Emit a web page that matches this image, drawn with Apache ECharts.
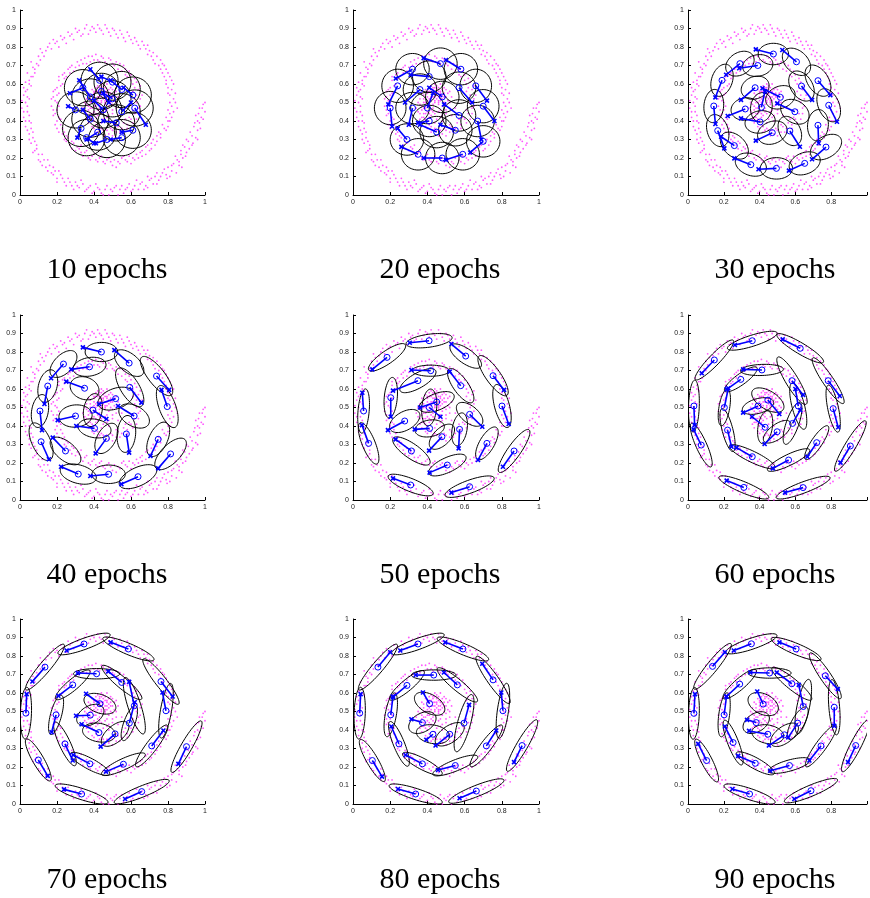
<!DOCTYPE html>
<html>
<head>
<meta charset="utf-8">
<script src="https://cdn.jsdelivr.net/npm/echarts/dist/echarts.min.js"></script>
<style>
html, body { margin: 0; padding: 0; background: #fff; }
#main { width: 870px; height: 898px; }
</style>
</head>
<body>
<div id="main"></div>
<script>
// spiral data cloud (same in every panel)
const spiral = [
  [0.99,0.49],[0.97,0.47],[1.0,0.45],[0.98,0.42],[0.95,0.43],[0.97,0.39],[0.94,0.37],[0.96,0.35],[0.92,0.34],[0.95,0.31],
  [0.91,0.29],[0.93,0.27],[0.89,0.26],[0.9,0.23],[0.87,0.24],[0.88,0.2],[0.85,0.19],[0.86,0.16],[0.83,0.17],[0.82,0.13],
  [0.8,0.15],[0.79,0.11],[0.77,0.12],[0.75,0.08],[0.73,0.1],[0.72,0.06],[0.7,0.08],[0.68,0.05],[0.66,0.07],[0.64,0.03],
  [0.62,0.05],[0.6,0.02],[0.58,0.04],[0.56,0.01],[0.54,0.03],[0.52,0.05],[0.5,0.02],[0.48,0.0],[0.46,0.03],[0.44,0.01],
  [0.42,0.04],[0.4,0.02],[0.38,0.05],[0.36,0.03],[0.34,0.06],[0.32,0.04],[0.3,0.07],[0.28,0.05],[0.26,0.09],[0.24,0.07],
  [0.22,0.11],[0.2,0.09],[0.19,0.13],[0.17,0.12],[0.16,0.16],[0.14,0.15],[0.13,0.19],[0.11,0.18],[0.1,0.22],[0.08,0.24],
  [0.09,0.27],[0.06,0.28],[0.07,0.31],[0.05,0.33],[0.06,0.36],[0.03,0.37],[0.05,0.4],[0.02,0.42],[0.04,0.45],[0.01,0.47],
  [0.03,0.5],[0.05,0.52],[0.02,0.54],[0.04,0.57],[0.06,0.59],[0.03,0.61],[0.06,0.64],[0.08,0.66],[0.07,0.69],[0.1,0.7],
  [0.11,0.73],[0.13,0.75],[0.14,0.78],[0.17,0.79],[0.19,0.82],[0.21,0.8],[0.23,0.84],[0.25,0.82],[0.27,0.86],[0.29,0.84],
  [0.31,0.88],[0.33,0.86],[0.35,0.9],[0.37,0.87],[0.39,0.91],[0.41,0.88],[0.43,0.9],[0.45,0.87],[0.47,0.9],[0.49,0.86],
  [0.51,0.89],[0.53,0.85],[0.55,0.87],[0.57,0.83],[0.59,0.86],[0.61,0.82],[0.63,0.83],[0.65,0.79],[0.67,0.81],[0.69,0.76],
  [0.7,0.78],[0.72,0.73],[0.74,0.75],[0.75,0.7],[0.77,0.71],[0.77,0.66],[0.79,0.68],[0.79,0.62],[0.81,0.64],[0.8,0.58],
  [0.83,0.6],[0.81,0.54],[0.84,0.55],[0.81,0.5],[0.84,0.5],[0.8,0.46],[0.83,0.45],[0.79,0.42],[0.81,0.4],[0.77,0.38],
  [0.79,0.35],[0.75,0.34],[0.76,0.31],[0.72,0.3],[0.73,0.27],[0.69,0.27],[0.7,0.24],[0.66,0.24],[0.66,0.21],[0.63,0.22],
  [0.62,0.19],[0.59,0.21],[0.58,0.18],[0.55,0.2],[0.54,0.17],[0.51,0.19],[0.5,0.16],[0.47,0.19],[0.46,0.17],[0.43,0.2],
  [0.42,0.18],[0.39,0.21],[0.38,0.19],[0.35,0.23],[0.34,0.21],[0.32,0.25],[0.3,0.24],[0.29,0.28],[0.27,0.27],[0.26,0.31],
  [0.24,0.3],[0.24,0.34],[0.21,0.34],[0.22,0.38],[0.19,0.38],[0.21,0.42],[0.18,0.43],[0.2,0.46],[0.17,0.48],[0.2,0.5],
  [0.18,0.53],[0.21,0.55],[0.19,0.57],[0.22,0.59],[0.21,0.62],[0.24,0.63],[0.24,0.66],[0.27,0.66],[0.27,0.69],[0.3,0.69],
  [0.31,0.72],[0.34,0.71],[0.35,0.74],[0.38,0.72],[0.39,0.75],[0.42,0.73],[0.44,0.75],[0.46,0.72],[0.48,0.74],[0.5,0.71],
  [0.52,0.72],[0.53,0.68],[0.56,0.7],[0.57,0.65],[0.59,0.67],[0.6,0.62],[0.62,0.63],[0.62,0.58],[0.65,0.59],[0.63,0.54],
  [0.66,0.54],[0.63,0.5],[0.65,0.48],[0.61,0.46],[0.64,0.44],[0.59,0.42],[0.61,0.39],[0.56,0.39],[0.58,0.36],[0.53,0.37],
  [0.54,0.34],[0.5,0.35],[0.5,0.32],[0.47,0.35],[0.46,0.32],[0.44,0.36],[0.42,0.34],[0.41,0.38],[0.39,0.37],[0.39,0.41],
  [0.36,0.41],[0.38,0.44],[0.35,0.45],[0.37,0.48],[0.35,0.5],[0.38,0.52],[0.37,0.55],[0.4,0.55],[0.41,0.58],[0.43,0.57],
  [0.45,0.59],[0.46,0.56],[0.48,0.57],[0.48,0.54],[0.5,0.53],[0.47,0.51],[0.49,0.5],[0.46,0.49],[0.45,0.52],[0.44,0.5],
  [0.43,0.53],[0.42,0.51],[0.44,0.55],[0.46,0.53],[0.41,0.48],[0.4,0.45],[0.42,0.43],[0.45,0.41],[0.48,0.43],[0.5,0.46],
  [0.52,0.5],[0.51,0.55],[0.43,0.47],[0.47,0.46],[0.39,0.5],[0.4,0.53],[0.42,0.56],[0.45,0.57],[0.47,0.55],[0.44,0.53],
  [0.41,0.52],[0.43,0.49],[0.46,0.51],[0.48,0.52],[0.45,0.54],[0.4,0.56],[0.43,0.58],[0.39,0.47],[0.41,0.44],[0.37,0.42],
  [0.44,0.44],[0.47,0.42],[0.5,0.44],[0.52,0.47],[0.5,0.49],[0.49,0.58],
  [0.985,0.47],[1.0,0.5],[0.965,0.44],[0.99,0.41],[0.96,0.4],[0.975,0.36],[0.945,0.39],[0.93,0.32],[0.96,0.3],[0.935,0.28],
  [0.9,0.3],[0.915,0.25],[0.88,0.27],[0.895,0.21],[0.87,0.22],[0.86,0.18],[0.84,0.21],[0.875,0.15],[0.82,0.16],[0.845,0.12],
  [0.81,0.1],[0.78,0.14],[0.795,0.09],[0.76,0.1],[0.74,0.06],[0.74,0.12],[0.71,0.09],[0.69,0.04],[0.69,0.1],[0.67,0.03],
  [0.65,0.06],[0.63,0.08],[0.61,0.03],[0.59,0.06],[0.57,0.03],[0.55,0.05],[0.53,0.0],[0.51,0.04],[0.49,0.03],[0.47,0.05],
  [0.45,0.0],[0.43,0.03],[0.41,0.06],[0.39,0.01],[0.37,0.04],[0.35,0.02],[0.33,0.08],[0.31,0.05],[0.29,0.03],[0.27,0.07],
  [0.25,0.05],[0.23,0.09],[0.21,0.13],[0.2,0.07],[0.18,0.11],[0.18,0.15],[0.15,0.13],[0.15,0.19],[0.12,0.16],[0.12,0.22],
  [0.1,0.19],[0.09,0.25],[0.07,0.23],[0.08,0.29],[0.05,0.3],[0.07,0.34],[0.04,0.35],[0.06,0.39],[0.03,0.4],[0.05,0.43],
  [0.02,0.45],[0.04,0.48],[0.01,0.51],[0.04,0.53],[0.03,0.56],[0.05,0.6],[0.02,0.58],[0.05,0.62],[0.07,0.64],[0.04,0.66],
  [0.08,0.68],[0.09,0.71],[0.06,0.72],[0.1,0.75],[0.12,0.77],[0.11,0.79],[0.15,0.8],[0.16,0.82],[0.18,0.84],[0.2,0.83],
  [0.22,0.86],[0.24,0.85],[0.26,0.88],[0.28,0.87],[0.3,0.9],[0.32,0.89],[0.34,0.87],[0.36,0.92],[0.38,0.89],[0.4,0.9],
  [0.42,0.92],[0.44,0.89],[0.46,0.92],[0.48,0.88],[0.5,0.9],[0.52,0.87],[0.54,0.89],[0.56,0.85],[0.58,0.88],[0.6,0.84],
  [0.62,0.85],[0.64,0.81],[0.66,0.83],[0.68,0.79],[0.69,0.81],[0.71,0.75],[0.72,0.77],[0.73,0.71],[0.76,0.73],[0.76,0.68],
  [0.78,0.7],[0.78,0.64],[0.8,0.66],[0.82,0.62],[0.79,0.6],[0.82,0.57],[0.8,0.55],[0.83,0.52],[0.82,0.48],[0.85,0.47],
  [0.81,0.44],[0.82,0.42],[0.8,0.4],[0.78,0.36],[0.8,0.37],[0.76,0.33],[0.74,0.32],[0.74,0.29],[0.71,0.28],[0.71,0.25],
  [0.68,0.26],[0.68,0.22],[0.65,0.23],[0.64,0.2],[0.61,0.2],[0.6,0.17],[0.57,0.19],[0.56,0.21],[0.53,0.18],[0.52,0.15],
  [0.49,0.18],[0.48,0.2],[0.45,0.18],[0.44,0.21],[0.41,0.19],[0.4,0.22],[0.37,0.2],[0.36,0.24],[0.33,0.23],[0.33,0.27],
  [0.31,0.26],[0.28,0.29],[0.28,0.25],[0.25,0.29],[0.25,0.32],[0.23,0.33],[0.23,0.36],[0.2,0.36],[0.2,0.4],[0.22,0.41],
  [0.19,0.44],[0.18,0.46],[0.21,0.48],[0.19,0.51],[0.17,0.52],[0.2,0.54],[0.18,0.56],[0.2,0.58],[0.23,0.6],[0.21,0.64],
  [0.23,0.65],[0.25,0.64],[0.26,0.68],[0.28,0.7],[0.29,0.67],[0.32,0.7],[0.33,0.73],[0.36,0.71],[0.37,0.75],[0.4,0.73],
  [0.41,0.76],[0.43,0.72],[0.45,0.74],[0.47,0.71],[0.49,0.73],[0.51,0.7],[0.54,0.71],[0.55,0.67],[0.57,0.68],[0.58,0.64],
  [0.6,0.65],[0.61,0.6],[0.63,0.61],[0.64,0.57],[0.61,0.56],[0.65,0.52],[0.62,0.52],[0.64,0.47],[0.62,0.44],[0.6,0.41],
  [0.63,0.41],[0.58,0.38],[0.57,0.41],[0.55,0.36],[0.52,0.38],[0.52,0.34],[0.49,0.36],[0.48,0.33],[0.45,0.35],[0.43,0.35],
  [0.42,0.37],[0.4,0.36],[0.4,0.4],[0.37,0.39],[0.38,0.42],[0.36,0.44],[0.37,0.46],[0.34,0.47],[0.36,0.49],[0.36,0.52],
  [0.38,0.54],[0.39,0.57],[0.41,0.56],[0.42,0.59],[0.44,0.58],[0.46,0.58],[0.47,0.56],[0.49,0.55],[0.49,0.53],[0.47,0.53],
  [0.46,0.5],[0.44,0.51],[0.45,0.55],[0.43,0.55],[0.42,0.53],[0.41,0.5],[0.4,0.48],[0.42,0.46],[0.39,0.44],[0.38,0.47],
  [0.43,0.45],[0.46,0.45],[0.48,0.48],[0.51,0.51],[0.5,0.57],[0.44,0.6],[0.47,0.6],[0.38,0.5],[0.4,0.51],[0.41,0.42],
  [0.44,0.39],[0.48,0.4],[0.53,0.43],[0.55,0.47],[0.53,0.53],[0.52,0.56]
];

// ellipses per panel: [centre x, centre y, semi-axis a, semi-axis b, angle deg]; the blue "o" sits at the centre
const ell10 = [
  [0.43,0.62,0.1,0.098,0],[0.5,0.61,0.1,0.098,0],[0.55,0.57,0.1,0.098,0],[0.61,0.54,0.1,0.098,0],
  [0.34,0.58,0.1,0.098,0],[0.38,0.53,0.1,0.098,0],[0.5,0.52,0.1,0.098,0],[0.62,0.47,0.1,0.098,0],
  [0.45,0.46,0.1,0.098,0],[0.3,0.46,0.1,0.098,0],[0.55,0.45,0.1,0.098,0],[0.38,0.41,0.1,0.098,0],
  [0.33,0.36,0.1,0.098,0],[0.52,0.39,0.1,0.098,0],[0.61,0.35,0.1,0.098,0],[0.42,0.34,0.1,0.098,0],
  [0.47,0.3,0.1,0.098,0],[0.55,0.31,0.1,0.098,0],[0.36,0.31,0.1,0.098,0],[0.44,0.56,0.1,0.098,0]
];
const tip10 = [
  [0.38,0.68],[0.44,0.64],[0.49,0.62],[0.56,0.58],[0.27,0.55],[0.32,0.62],[0.45,0.55],[0.68,0.38],
  [0.4,0.51],[0.26,0.48],[0.6,0.5],[0.34,0.46],[0.31,0.31],[0.45,0.4],[0.55,0.34],[0.36,0.3],
  [0.41,0.28],[0.49,0.3],[0.4,0.28],[0.48,0.5]
];

const ell20 = [
  [0.47,0.71,0.09,0.085,0],[0.58,0.68,0.09,0.085,0],[0.32,0.68,0.09,0.085,0],[0.41,0.64,0.09,0.085,0],
  [0.24,0.59,0.09,0.085,90],[0.36,0.57,0.09,0.085,0],[0.57,0.58,0.09,0.085,0],[0.66,0.59,0.09,0.085,90],
  [0.48,0.53,0.09,0.085,0],[0.7,0.48,0.09,0.085,90],[0.2,0.47,0.09,0.085,90],[0.32,0.47,0.09,0.085,0],
  [0.4,0.47,0.09,0.085,0],[0.57,0.43,0.09,0.085,0],[0.67,0.4,0.09,0.085,0],[0.45,0.34,0.09,0.085,0],
  [0.55,0.35,0.09,0.085,0],[0.29,0.3,0.09,0.085,0],[0.35,0.22,0.09,0.085,0],[0.48,0.2,0.09,0.085,0],
  [0.59,0.22,0.09,0.085,0],[0.7,0.29,0.09,0.085,0],[0.41,0.4,0.09,0.085,0]
];
const tip20 = [
  [0.38,0.74],[0.5,0.73],[0.23,0.63],[0.31,0.65],[0.19,0.49],[0.28,0.5],[0.64,0.5],[0.72,0.51],
  [0.41,0.58],[0.76,0.4],[0.21,0.37],[0.3,0.38],[0.43,0.55],[0.49,0.49],[0.69,0.3],[0.36,0.38],
  [0.47,0.38],[0.24,0.36],[0.26,0.26],[0.38,0.2],[0.5,0.19],[0.63,0.23],[0.35,0.39]
];

const ell30 = [
  [0.477,0.762,0.085,0.058,0],[0.606,0.72,0.09,0.06,-40],[0.29,0.71,0.085,0.06,30],[0.39,0.7,0.085,0.058,10],
  [0.19,0.62,0.09,0.058,70],[0.634,0.589,0.09,0.06,-55],[0.726,0.618,0.095,0.058,-55],[0.375,0.58,0.08,0.06,20],
  [0.516,0.528,0.085,0.06,20],[0.144,0.481,0.09,0.055,85],[0.32,0.465,0.08,0.06,10],[0.41,0.474,0.08,0.06,80],
  [0.597,0.45,0.085,0.06,-30],[0.786,0.485,0.095,0.058,-65],[0.403,0.395,0.085,0.06,10],[0.471,0.337,0.085,0.06,20],
  [0.569,0.346,0.085,0.058,-60],[0.726,0.377,0.085,0.058,85],[0.166,0.348,0.09,0.058,-70],[0.259,0.267,0.09,0.058,-40],
  [0.771,0.259,0.095,0.058,30],[0.351,0.164,0.09,0.058,-20],[0.494,0.144,0.09,0.058,0],[0.652,0.171,0.09,0.058,20]
];
const tip30 = [
  [0.379,0.787],[0.527,0.784],[0.213,0.65],[0.286,0.685],[0.153,0.528],[0.693,0.514],[0.795,0.54],[0.296,0.514],
  [0.416,0.577],[0.153,0.384],[0.222,0.427],[0.43,0.56],[0.499,0.495],[0.832,0.396],[0.296,0.414],[0.379,0.294],
  [0.625,0.261],[0.73,0.28],[0.203,0.252],[0.185,0.315],[0.693,0.193],[0.259,0.198],[0.394,0.139],[0.564,0.132]
];

const ell40 = [
  [0.44,0.8,0.088,0.052,0],[0.59,0.74,0.095,0.05,-40],[0.235,0.735,0.09,0.05,45],[0.376,0.72,0.09,0.05,10],
  [0.738,0.67,0.13,0.045,-52],[0.15,0.616,0.09,0.05,75],[0.349,0.604,0.08,0.06,-20],[0.593,0.609,0.12,0.05,-58],
  [0.796,0.505,0.12,0.045,-70],[0.517,0.548,0.1,0.055,20],[0.108,0.481,0.09,0.045,80],[0.394,0.486,0.09,0.05,80],
  [0.617,0.454,0.09,0.055,-30],[0.3,0.454,0.09,0.06,5],[0.403,0.387,0.09,0.05,-10],[0.467,0.333,0.09,0.05,60],
  [0.575,0.357,0.1,0.05,85],[0.747,0.328,0.1,0.05,65],[0.114,0.315,0.11,0.05,-65],[0.246,0.265,0.1,0.05,-40],
  [0.814,0.249,0.11,0.05,45],[0.315,0.14,0.1,0.05,-15],[0.479,0.139,0.09,0.05,0],[0.638,0.126,0.11,0.05,25]
];
const tip40 = [
  [0.34,0.825],[0.51,0.81],[0.168,0.658],[0.277,0.706],[0.806,0.595],[0.132,0.519],[0.25,0.64],[0.656,0.526],
  [0.765,0.595],[0.427,0.519],[0.119,0.378],[0.467,0.438],[0.53,0.508],[0.204,0.432],[0.304,0.4],[0.409,0.252],
  [0.59,0.256],[0.705,0.238],[0.156,0.22],[0.177,0.337],[0.747,0.171],[0.222,0.18],[0.38,0.13],[0.548,0.086]
];

const ell50 = [
  [0.409,0.861,0.125,0.035,8],[0.606,0.778,0.1,0.04,-35],[0.183,0.771,0.12,0.035,35],[0.753,0.672,0.13,0.04,-55],
  [0.418,0.699,0.1,0.03,0],[0.349,0.645,0.11,0.04,30],[0.579,0.618,0.11,0.04,-55],[0.801,0.508,0.12,0.04,-75],
  [0.203,0.553,0.11,0.035,85],[0.057,0.481,0.12,0.03,85],[0.627,0.463,0.085,0.045,-40],[0.278,0.427,0.09,0.05,30],
  [0.412,0.387,0.08,0.045,10],[0.478,0.342,0.085,0.045,45],[0.573,0.382,0.09,0.04,80],[0.084,0.306,0.12,0.035,-68],
  [0.72,0.306,0.1,0.04,60],[0.866,0.265,0.14,0.035,55],[0.314,0.265,0.12,0.04,-35],[0.507,0.189,0.11,0.04,25],
  [0.31,0.081,0.13,0.035,-22],[0.627,0.072,0.14,0.035,20],[0.45,0.53,0.1,0.045,22],[0.41,0.5,0.1,0.04,85]
];
const tip50 = [
  [0.305,0.85],[0.529,0.843],[0.104,0.706],[0.812,0.595],[0.314,0.703],[0.215,0.591],[0.52,0.694],[0.837,0.411],
  [0.203,0.45],[0.05,0.58],[0.695,0.396],[0.188,0.378],[0.332,0.382],[0.409,0.267],[0.568,0.279],[0.048,0.405],
  [0.672,0.216],[0.806,0.18],[0.229,0.328],[0.412,0.148],[0.215,0.117],[0.529,0.04],[0.36,0.5],[0.47,0.45]
];

const ell60 = [
  [0.359,0.861,0.145,0.03,17],[0.627,0.82,0.15,0.03,-30],[0.147,0.757,0.15,0.03,45],[0.413,0.703,0.12,0.03,2],
  [0.295,0.652,0.11,0.03,35],[0.783,0.645,0.15,0.03,-55],[0.581,0.645,0.15,0.035,-58],[0.033,0.508,0.14,0.03,88],
  [0.203,0.5,0.1,0.03,80],[0.811,0.494,0.13,0.03,-78],[0.616,0.508,0.13,0.035,-75],[0.391,0.508,0.09,0.04,15],
  [0.446,0.54,0.1,0.05,-30],[0.221,0.378,0.12,0.03,-75],[0.431,0.393,0.09,0.04,80],[0.584,0.414,0.12,0.035,70],
  [0.498,0.369,0.09,0.04,35],[0.074,0.297,0.13,0.03,-65],[0.719,0.31,0.11,0.03,55],[0.907,0.292,0.16,0.03,58],
  [0.359,0.234,0.14,0.03,-25],[0.562,0.216,0.13,0.03,25],[0.312,0.068,0.15,0.03,-22],[0.643,0.067,0.16,0.03,20]
];
const tip60 = [
  [0.262,0.838],[0.529,0.868],[0.077,0.685],[0.308,0.706],[0.216,0.598],[0.848,0.562],[0.643,0.568],[0.037,0.405],
  [0.225,0.604],[0.839,0.393],[0.6,0.6],[0.308,0.472],[0.51,0.465],[0.243,0.288],[0.358,0.45],[0.627,0.486],
  [0.428,0.303],[0.031,0.382],[0.667,0.234],[0.852,0.202],[0.271,0.283],[0.474,0.171],[0.216,0.105],[0.542,0.04]
];

const ell70 = [
  [0.346,0.865,0.15,0.03,20],[0.586,0.838,0.15,0.03,-23],[0.135,0.74,0.16,0.03,50],[0.414,0.704,0.125,0.028,0],
  [0.762,0.662,0.155,0.03,-52],[0.285,0.644,0.12,0.03,40],[0.55,0.657,0.14,0.03,-40],[0.032,0.491,0.14,0.03,88],
  [0.789,0.504,0.15,0.03,80],[0.195,0.482,0.11,0.03,75],[0.618,0.531,0.16,0.035,-72],[0.591,0.437,0.1,0.03,70],
  [0.432,0.542,0.09,0.05,-20],[0.38,0.48,0.08,0.05,30],[0.427,0.386,0.09,0.05,-10],[0.514,0.379,0.09,0.045,40],
  [0.243,0.325,0.13,0.03,-65],[0.378,0.217,0.12,0.03,-28],[0.559,0.215,0.13,0.03,25],[0.099,0.238,0.13,0.03,-60],
  [0.712,0.314,0.14,0.03,53],[0.9,0.31,0.16,0.03,60],[0.333,0.054,0.15,0.03,-18],[0.658,0.067,0.16,0.03,22]
];
const tip70 = [
  [0.252,0.83],[0.49,0.874],[0.067,0.662],[0.312,0.708],[0.825,0.581],[0.207,0.585],[0.477,0.717],[0.036,0.594],
  [0.77,0.603],[0.171,0.388],[0.59,0.66],[0.62,0.55],[0.357,0.596],[0.303,0.477],[0.333,0.431],[0.436,0.31],
  [0.285,0.235],[0.288,0.265],[0.465,0.175],[0.15,0.152],[0.775,0.397],[0.856,0.217],[0.238,0.079],[0.568,0.027]
];

const ell80 = [
  [0.349,0.865,0.15,0.03,20],[0.591,0.838,0.15,0.03,-23],[0.134,0.74,0.16,0.03,50],[0.036,0.491,0.14,0.03,88],
  [0.104,0.235,0.13,0.03,-60],[0.337,0.054,0.15,0.03,-18],[0.663,0.07,0.16,0.03,22],[0.909,0.316,0.16,0.03,60],
  [0.717,0.314,0.14,0.03,53],[0.55,0.208,0.13,0.03,22],[0.373,0.217,0.12,0.03,-28],[0.247,0.325,0.13,0.03,-68],
  [0.203,0.482,0.12,0.03,80],[0.29,0.641,0.12,0.03,40],[0.434,0.697,0.12,0.028,0],[0.561,0.644,0.14,0.03,-40],
  [0.753,0.671,0.155,0.03,-55],[0.806,0.504,0.15,0.03,82],[0.597,0.437,0.16,0.035,75],[0.52,0.377,0.09,0.045,35],
  [0.43,0.377,0.09,0.05,-10],[0.373,0.44,0.08,0.05,30],[0.412,0.542,0.09,0.05,-30]
];
const tip80 = [
  [0.254,0.83],[0.496,0.874],[0.2,0.82],[0.041,0.594],[0.156,0.148],[0.242,0.081],[0.573,0.031],[0.866,0.226],
  [0.77,0.397],[0.457,0.184],[0.283,0.265],[0.206,0.419],[0.215,0.581],[0.215,0.578],[0.337,0.697],[0.489,0.711],
  [0.695,0.758],[0.797,0.603],[0.624,0.536],[0.444,0.316],[0.394,0.347],[0.314,0.458],[0.376,0.603]
];

const ell90 = [
  [0.354,0.866,0.15,0.03,18],[0.604,0.838,0.15,0.03,-22],[0.137,0.744,0.16,0.03,50],[0.033,0.49,0.14,0.03,88],
  [0.104,0.235,0.13,0.03,-62],[0.344,0.054,0.15,0.03,-18],[0.687,0.072,0.16,0.03,22],[0.937,0.316,0.16,0.03,62],
  [0.743,0.314,0.14,0.03,53],[0.567,0.208,0.12,0.03,15],[0.376,0.22,0.12,0.03,-28],[0.252,0.332,0.13,0.03,-68],
  [0.202,0.482,0.12,0.03,82],[0.289,0.648,0.12,0.03,40],[0.456,0.708,0.12,0.028,0],[0.58,0.65,0.14,0.03,-38],
  [0.767,0.693,0.15,0.03,-55],[0.817,0.523,0.15,0.03,-85],[0.644,0.527,0.15,0.035,78],[0.613,0.437,0.1,0.035,60],
  [0.539,0.374,0.09,0.045,35],[0.446,0.377,0.09,0.05,-10],[0.381,0.44,0.08,0.05,30],[0.42,0.54,0.09,0.055,-25]
];
const tip90 = [
  [0.256,0.83],[0.511,0.874],[0.206,0.82],[0.039,0.594],[0.057,0.325],[0.248,0.081],[0.594,0.027],[0.894,0.226],
  [0.678,0.235],[0.459,0.18],[0.28,0.26],[0.206,0.419],[0.215,0.581],[0.215,0.581],[0.348,0.711],[0.496,0.711],
  [0.837,0.621],[0.817,0.422],[0.619,0.644],[0.56,0.36],[0.452,0.316],[0.341,0.395],[0.33,0.455],[0.387,0.608]
];

const panelNames = ['10 epochs','20 epochs','30 epochs','40 epochs','50 epochs','60 epochs','70 epochs','80 epochs','90 epochs'];
const panelEll = [ell10, ell20, ell30, ell40, ell50, ell60, ell70, ell80, ell90];
const panelTip = [tip10, tip20, tip30, tip40, tip50, tip60, tip70, tip80, tip90];

// layout
const colLeft = [20, 353, 688];
const colWidth = [185, 186, 181];
const rowTop = [10, 315, 619];
const labelX = [107, 440, 775];
const labelY = [270, 575, 880];
const BLUE = '#0000ff';

const chart = echarts.init(document.getElementById('main'), null, { renderer: 'canvas' });

function ellipseItem(params, api) {
  const cx = api.value(0), cy = api.value(1);
  const a = api.value(2), b = api.value(3);
  const ang = api.value(4) * Math.PI / 180;
  const pts = [];
  for (let k = 0; k <= 60; k++) {
    const t = k / 60 * Math.PI * 2;
    const ex = a * Math.cos(t), ey = b * Math.sin(t);
    pts.push(api.coord([cx + ex * Math.cos(ang) - ey * Math.sin(ang), cy + ex * Math.sin(ang) + ey * Math.cos(ang)]));
  }
  return {
    type: 'polyline',
    shape: { points: pts },
    style: { fill: null, stroke: '#000', lineWidth: 1 }
  };
}

function arrowItem(params, api) {
  const o = api.coord([api.value(0), api.value(1)]);
  const t = api.coord([api.value(2), api.value(3)]);
  const s = 2;
  return {
    type: 'group',
    children: [
      { type: 'line', shape: { x1: o[0], y1: o[1], x2: t[0], y2: t[1] }, style: { stroke: BLUE, lineWidth: 1.6 } },
      { type: 'circle', shape: { cx: o[0], cy: o[1], r: 3 }, style: { fill: null, stroke: BLUE, lineWidth: 1 } },
      { type: 'line', shape: { x1: t[0] - s, y1: t[1] - s, x2: t[0] + s, y2: t[1] + s }, style: { stroke: BLUE, lineWidth: 1.6 } },
      { type: 'line', shape: { x1: t[0] - s, y1: t[1] + s, x2: t[0] + s, y2: t[1] - s }, style: { stroke: BLUE, lineWidth: 1.6 } }
    ]
  };
}

const grids = [], xAxes = [], yAxes = [], series = [], texts = [];
for (let i = 0; i < 9; i++) {
  const r = Math.floor(i / 3), c = i % 3;
  grids.push({ left: colLeft[c], top: rowTop[r], width: colWidth[c], height: 185 });
  xAxes.push({
    gridIndex: i, type: 'value', min: 0, max: 1, interval: 0.2,
    axisLine: { lineStyle: { color: '#000', width: 1 } },
    axisTick: { inside: true, length: 3, lineStyle: { color: '#000' } },
    axisLabel: {
      fontSize: 7, color: '#222', fontFamily: 'Liberation Sans', margin: 4,
      formatter: v => (c === 2 && v === 1) ? '' : String(v)
    },
    splitLine: { show: false }
  });
  yAxes.push({
    gridIndex: i, type: 'value', min: 0, max: 1, interval: 0.1,
    axisLine: { show: true, lineStyle: { color: '#000', width: 1 } },
    axisTick: { show: true, inside: true, length: 3, lineStyle: { color: '#000' } },
    axisLabel: { fontSize: 7, color: '#222', fontFamily: 'Liberation Sans', margin: 4 },
    splitLine: { show: false }
  });
  series.push({
    type: 'scatter', xAxisIndex: i, yAxisIndex: i, data: spiral,
    symbolSize: 1.8, itemStyle: { color: '#ff22ff', opacity: 0.75 }, silent: true, z: 1
  });
  series.push({
    type: 'custom', xAxisIndex: i, yAxisIndex: i, data: panelEll[i],
    renderItem: ellipseItem, clip: true, silent: true, z: 2
  });
  series.push({
    type: 'custom', xAxisIndex: i, yAxisIndex: i,
    data: panelEll[i].map((e, k) => [e[0], e[1], panelTip[i][k][0], panelTip[i][k][1]]),
    renderItem: arrowItem, clip: false, silent: true, z: 3
  });
  texts.push({
    type: 'text', x: labelX[c], y: labelY[r],
    style: { text: panelNames[i], font: '30px "Liberation Serif"', fill: '#000', align: 'center', verticalAlign: 'middle' }
  });
}

chart.setOption({
  animation: false,
  backgroundColor: '#fff',
  grid: grids,
  xAxis: xAxes,
  yAxis: yAxes,
  series: series,
  graphic: texts
});
</script>
</body>
</html>
